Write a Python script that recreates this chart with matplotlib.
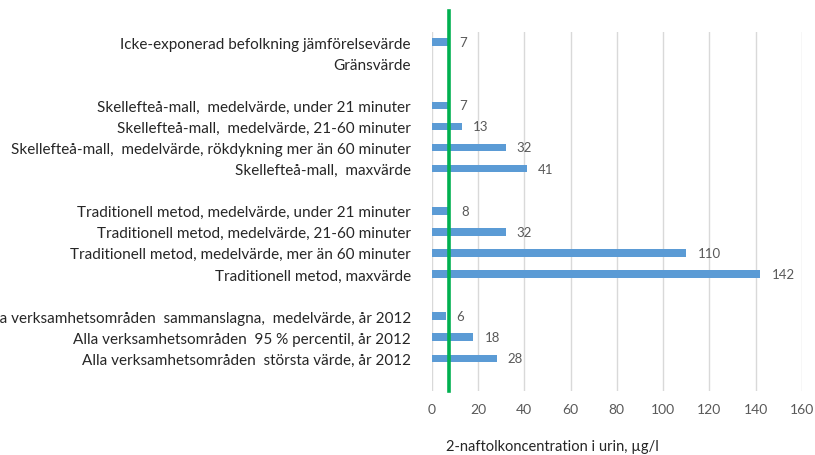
import numpy as np
import matplotlib.pyplot as plt

plt.rcParams['font.family'] = ['Lato', 'DejaVu Sans']

# kategorier (tomma rader = mellanrum i diagrammet)
kategorier = [
    'Icke-exponerad befolkning jämförelsevärde',
    'Gränsvärde',
    '',
    'Skellefteå-mall,  medelvärde, under 21 minuter',
    'Skellefteå-mall,  medelvärde, 21-60 minuter',
    'Skellefteå-mall,  medelvärde, rökdykning mer än 60 minuter',
    'Skellefteå-mall,  maxvärde',
    '',
    'Traditionell metod, medelvärde, under 21 minuter',
    'Traditionell metod, medelvärde, 21-60 minuter',
    'Traditionell metod, medelvärde, mer än 60 minuter',
    'Traditionell metod, maxvärde',
    '',
    'Alla verksamhetsområden  sammanslagna,  medelvärde, år 2012',
    'Alla verksamhetsområden  95 % percentil, år 2012',
    'Alla verksamhetsområden  största värde, år 2012',
]
varden = [7, np.nan, np.nan,
          7, 13, 32, 41, np.nan,
          8, 32, 110, 142, np.nan,
          6, 18, 28]
gransvarde = 7.5

xticks = list(range(0, 161, 20))

fig = plt.figure(figsize=(8.15, 4.56), dpi=100)
ax = fig.add_axes([0.5297, 0.1404, 0.4543, 0.7883])

y = np.arange(len(kategorier))
ax.barh(y, varden, height=0.36, color='#5B9BD5', zorder=2)

for yi, v in zip(y, varden):
    if np.isnan(v):
        continue
    ax.annotate(f'{v:g}', (v, yi), xytext=(8, 0), textcoords='offset points',
                va='center', ha='left', fontsize=9.5, color='#595959')

# gränsvärdeslinje
ax.axvline(gransvarde, ymin=0, ymax=1.056, color='#00B050', lw=2.6,
           zorder=3, clip_on=False)

ax.set_xlim(0, 160)
ax.set_ylim(len(kategorier) + 0.55, -0.5)
ax.set_xticks(xticks)
ax.set_yticks(y)
ax.set_yticklabels(kategorier, fontsize=11, color='#262626')
ax.tick_params(axis='y', length=0, pad=15)
ax.tick_params(axis='x', length=0, pad=9, labelsize=10, labelcolor='#595959')
ax.grid(axis='x', color='#D9D9D9', lw=1, zorder=0)
for s in ax.spines.values():
    s.set_visible(False)

fig.text(446 / 815, 1 - 447 / 456, '2-naftolkoncentration i urin, µg/l',
         ha='left', va='center', fontsize=10.5, color='#262626')

fig.savefig('out.png', dpi=100)
